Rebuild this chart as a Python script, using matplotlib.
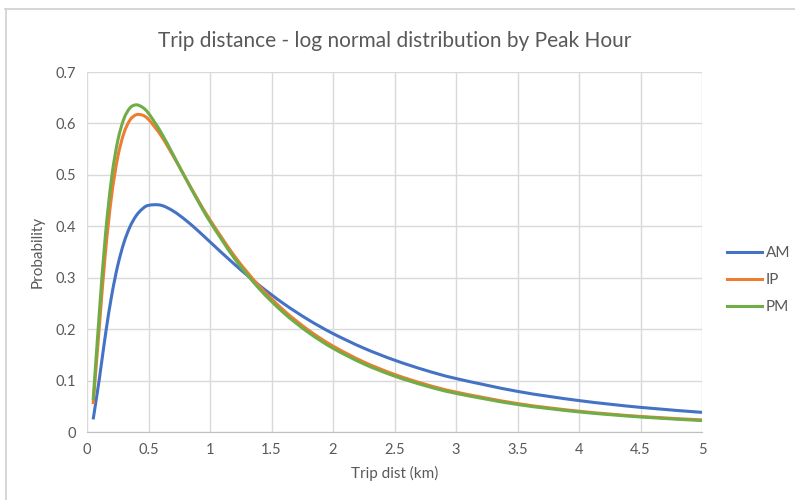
import matplotlib.pyplot as plt
from matplotlib.lines import Line2D
from matplotlib.path import Path
from matplotlib.patches import PathPatch

plt.rcParams['font.family'] = ['Lato', 'DejaVu Sans']

dist = [0.05, 0.1, 0.15, 0.2, 0.25, 0.3, 0.35, 0.4, 0.45, 0.5, 0.6, 0.7, 0.8, 0.9, 1.0,
        1.2, 1.4, 1.6, 1.8, 2.0, 2.25, 2.5, 2.75, 3.0, 3.5, 4.0, 4.5, 5.0]
am = [0.0245, 0.1027, 0.1894, 0.2647, 0.3238, 0.3680, 0.3994, 0.4206, 0.4338, 0.4407,
      0.4410, 0.4298, 0.4124, 0.3918, 0.3697, 0.3259, 0.2853, 0.2494, 0.2182, 0.1914,
      0.1631, 0.1397, 0.1202, 0.1040, 0.0790, 0.0611, 0.0479, 0.0382]
ip = [0.0542, 0.2043, 0.3493, 0.4593, 0.5345, 0.5811, 0.6068, 0.6168, 0.6161, 0.6078,
      0.5770, 0.5370, 0.4944, 0.4523, 0.4125, 0.3419, 0.2837, 0.2365, 0.1982, 0.1671,
      0.1362, 0.1120, 0.0928, 0.0776, 0.0553, 0.0404, 0.0302, 0.0235]
pm = [0.0620, 0.2316, 0.3836, 0.4941, 0.5663, 0.6090, 0.6303, 0.6361, 0.6315, 0.6197,
      0.5835, 0.5395, 0.4940, 0.4500, 0.4090, 0.3371, 0.2786, 0.2314, 0.1935, 0.1628,
      0.1324, 0.1087, 0.0900, 0.0751, 0.0535, 0.0391, 0.0292, 0.0222]

series = [('AM', am, '#4472C4'), ('IP', ip, '#ED7D31'), ('PM', pm, '#70AD47')]


def smooth_path(xs, ys):
    # Excel-style smoothed line: cubic Bezier segments through every data point
    pts = list(zip(xs, ys))
    verts = [pts[0]]
    codes = [Path.MOVETO]
    n = len(pts)
    for i in range(n - 1):
        p0 = pts[max(i - 1, 0)]
        p1 = pts[i]
        p2 = pts[i + 1]
        p3 = pts[min(i + 2, n - 1)]
        c1 = (p1[0] + (p2[0] - p0[0]) / 6, p1[1] + (p2[1] - p0[1]) / 6)
        c2 = (p2[0] - (p3[0] - p1[0]) / 6, p2[1] - (p3[1] - p1[1]) / 6)
        verts += [c1, c2, p2]
        codes += [Path.CURVE4] * 3
    return Path(verts, codes)


fig = plt.figure(figsize=(7.95, 5.0), dpi=100)
ax = fig.add_axes([87/795, 1 - 432/500, 615/795, 360/500])

handles = []
for name, vals, col in series:
    ax.add_patch(PathPatch(smooth_path(dist, vals), fill=False, edgecolor=col, lw=2.2,
                           capstyle='butt', joinstyle='round'))
    handles.append(Line2D([], [], color=col, lw=2.2, label=name))

ax.set_xlim(0, 5)
ax.set_ylim(0, 0.7)
ax.set_xticks([0, 0.5, 1, 1.5, 2, 2.5, 3, 3.5, 4, 4.5, 5])
ax.set_xticklabels(['0', '0.5', '1', '1.5', '2', '2.5', '3', '3.5', '4', '4.5', '5'])
ax.set_yticks([0, 0.1, 0.2, 0.3, 0.4, 0.5, 0.6, 0.7])
ax.set_yticklabels(['0', '0.1', '0.2', '0.3', '0.4', '0.5', '0.6', '0.7'])
ax.grid(True, color='#d9d9d9', lw=1)
ax.set_axisbelow(True)
for s in ['top', 'right', 'left']:
    ax.spines[s].set_visible(False)
ax.spines['bottom'].set_color('#bfbfbf')
ax.tick_params(length=0, labelsize=10.5, colors='#595959', pad=8)

ax.set_xlabel('Trip dist (km)', fontsize=11, color='#595959', labelpad=6)
ax.set_ylabel('Probability', fontsize=11, color='#595959', labelpad=8)
ax.set_title('Trip distance - log normal distribution by Peak Hour', fontsize=15,
             color='#595959', pad=18)

fig.legend(handles=handles, loc='center left', bbox_to_anchor=(727/795, 1 - 280/500),
           frameon=False, fontsize=11, labelcolor='#595959', handlelength=2.3,
           handletextpad=0.25, labelspacing=0.85, borderpad=0, borderaxespad=0)

# chart area border (top and left edges only visible)
fig.add_artist(Line2D([5/795, 1], [1 - 9/500, 1 - 9/500], color='#d0d0d0', lw=1.2))
fig.add_artist(Line2D([6/795, 6/795], [0, 1 - 9/500], color='#d0d0d0', lw=1.2))

fig.savefig('out.png', dpi=100, facecolor='white')
